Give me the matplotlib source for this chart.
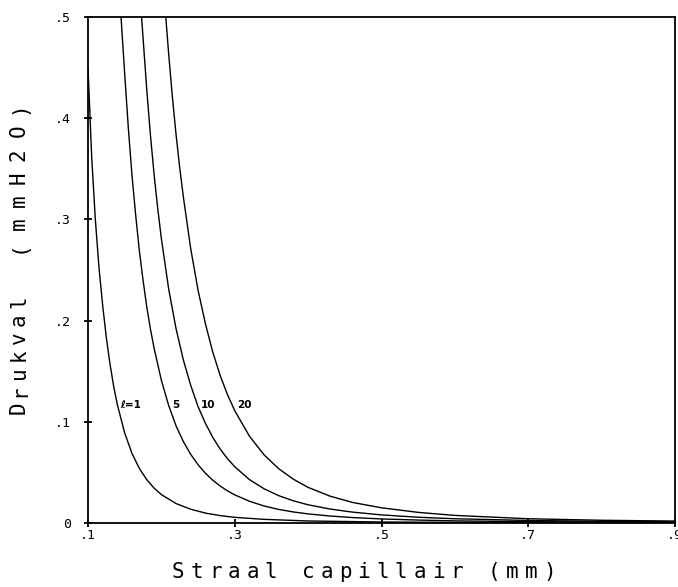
import matplotlib
matplotlib.use("Agg")
import matplotlib.pyplot as plt

# Pressure drop (mmH2O) versus capillary radius (mm) for four capillary lengths
radius_l1 = [0.100, 0.105, 0.110, 0.115, 0.120, 0.125, 0.130, 0.135, 0.140, 0.150,
             0.160, 0.170, 0.180, 0.190, 0.200, 0.220, 0.240, 0.260, 0.280, 0.300,
             0.340, 0.400, 0.500, 0.600, 0.700, 0.900]
drop_l1 = [0.450, 0.362, 0.300, 0.252, 0.215, 0.183, 0.157, 0.135, 0.117, 0.0889,
           0.0687, 0.0539, 0.0429, 0.0345, 0.0281, 0.0192, 0.0136, 0.0098, 0.0073, 0.0056,
           0.0036, 0.0020, 0.0010, 0.0006, 0.0004, 0.0002]

radius_l5 = [0.145, 0.150, 0.155, 0.160, 0.165, 0.170, 0.175, 0.180, 0.185, 0.190,
             0.200, 0.210, 0.220, 0.230, 0.240, 0.250, 0.260, 0.270, 0.280, 0.290,
             0.300, 0.320, 0.340, 0.360, 0.380, 0.400, 0.430, 0.460, 0.500, 0.550,
             0.600, 0.700, 0.800, 0.900]
drop_l5 = [0.500, 0.444, 0.390, 0.343, 0.304, 0.269, 0.240, 0.214, 0.192, 0.173,
           0.141, 0.116, 0.096, 0.0804, 0.0678, 0.0576, 0.0492, 0.0423, 0.0366, 0.0318,
           0.0278, 0.0215, 0.0168, 0.0134, 0.0109, 0.0090, 0.0069, 0.0054, 0.0040, 0.0029,
           0.0021, 0.0013, 0.0009, 0.0007]

radius_l10 = [0.173, 0.180, 0.185, 0.190, 0.195, 0.200, 0.210, 0.220, 0.230, 0.240,
              0.250, 0.260, 0.270, 0.280, 0.290, 0.300, 0.320, 0.340, 0.360, 0.380,
              0.400, 0.430, 0.460, 0.500, 0.550, 0.600, 0.700, 0.800, 0.900]
drop_l10 = [0.500, 0.429, 0.384, 0.345, 0.311, 0.281, 0.231, 0.192, 0.161, 0.136,
            0.115, 0.0985, 0.0847, 0.0732, 0.0636, 0.0556, 0.0429, 0.0338, 0.0270, 0.0219,
            0.0180, 0.0138, 0.0108, 0.0080, 0.0057, 0.0042, 0.0025, 0.0017, 0.0013]

radius_l20 = [0.206, 0.210, 0.215, 0.220, 0.225, 0.230, 0.240, 0.250, 0.260, 0.270,
              0.280, 0.290, 0.300, 0.320, 0.340, 0.360, 0.380, 0.400, 0.430, 0.460,
              0.500, 0.550, 0.600, 0.700, 0.800, 0.900]
drop_l20 = [0.500, 0.463, 0.421, 0.384, 0.351, 0.322, 0.271, 0.230, 0.197, 0.169,
            0.146, 0.127, 0.111, 0.0858, 0.0673, 0.0536, 0.0432, 0.0352, 0.0265, 0.0204,
            0.0150, 0.0105, 0.0075, 0.0042, 0.0027, 0.0019]

curve_labels = ["ℓ=1", "5", "10", "20"]

x_ticks = [0.1, 0.3, 0.5, 0.7, 0.9]
x_ticklabels = [".1", ".3", ".5", ".7", ".9"]
y_ticks = [0.0, 0.1, 0.2, 0.3, 0.4, 0.5]
y_ticklabels = ["0", ".1", ".2", ".3", ".4", ".5"]

x_title = "Straal capillair (mm)"
y_title_word = "Drukval"
y_title_unit = "(mmH2O)"

W, H = 678, 587
MONO = "DejaVu Sans Mono"

fig = plt.figure(figsize=(W / 100, H / 100), dpi=100)
ax = fig.add_axes([88 / W, 64 / H, 587 / W, 506 / H])

series = [(radius_l1, drop_l1), (radius_l5, drop_l5),
          (radius_l10, drop_l10), (radius_l20, drop_l20)]
for xs, ys in series:
    ax.plot(xs, ys, color="black", lw=1.0, solid_joinstyle="round")

ax.set_xlim(0.1, 0.9)
ax.set_ylim(0.0, 0.5)

for sp in ax.spines.values():
    sp.set_linewidth(1.3)

ax.set_xticks(x_ticks)
ax.set_xticklabels(x_ticklabels, family=MONO, fontsize=9.5)
ax.set_yticks(y_ticks)
ax.set_yticklabels(y_ticklabels, family=MONO, fontsize=9.5)
ax.tick_params(axis="both", direction="inout", length=6, width=1.3, color="black")
ax.tick_params(axis="x", pad=1.5)
ax.tick_params(axis="y", pad=9)

# curve annotations
label_pos = [(0.1436, 0.117), (0.2154, 0.117), (0.254, 0.117), (0.3035, 0.117)]
for txt, (lx, ly) in zip(curve_labels, label_pos):
    ax.text(lx, ly, txt, fontsize=7.5, fontweight="bold", ha="left", va="center",
            family="DejaVu Sans")


def spaced_text(s, x0, y0, step, vertical=False, **kw):
    """Place a string one character at a time with a fixed advance (pixels)."""
    for i, ch in enumerate(s):
        if ch == " ":
            continue
        if vertical:
            x, y = x0, y0 + i * step
            fig.text(x / W, y / H, ch, rotation=90, rotation_mode="anchor",
                     ha="center", va="baseline", **kw)
        else:
            x, y = x0 + i * step, y0
            fig.text(x / W, y / H, ch, ha="center", va="baseline", **kw)


title_kw = dict(family=MONO, fontsize=15, color="black")
spaced_text(x_title, 178.3, 8.7, 18.55, **title_kw)
spaced_text(y_title_word, 25, H - 408, 17.7, vertical=True, **title_kw)
spaced_text(y_title_unit, 25, H - 247, 23.2, vertical=True, **title_kw)

fig.savefig("out.png", dpi=100)
